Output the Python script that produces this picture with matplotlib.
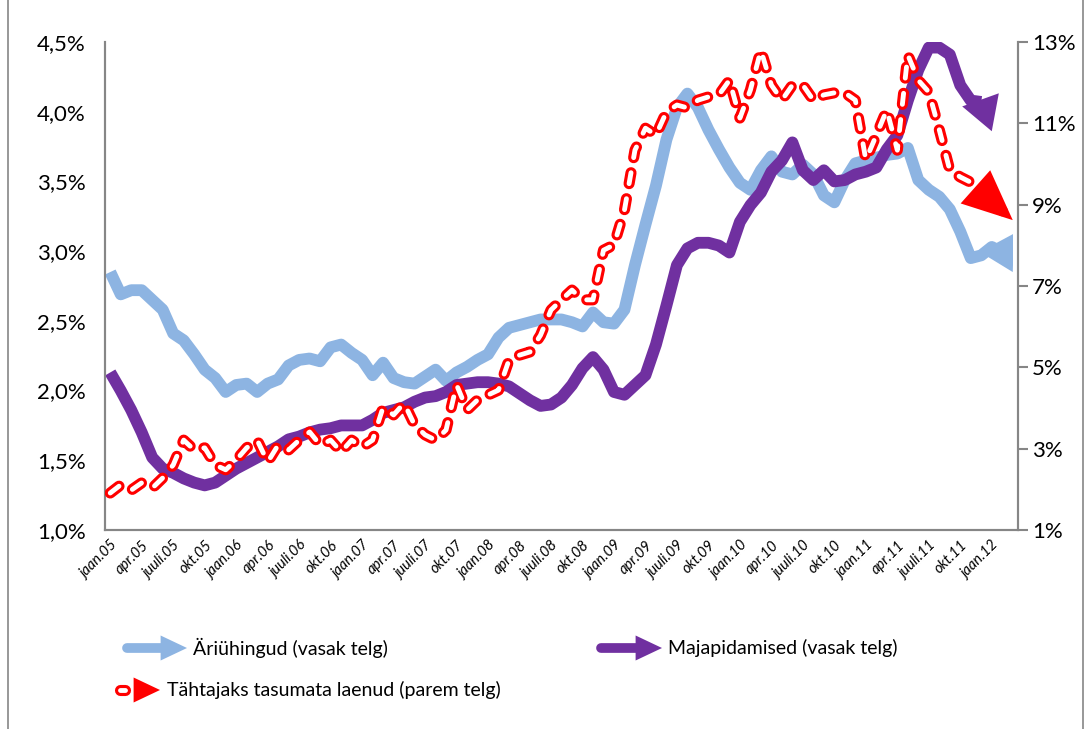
import matplotlib
matplotlib.use('Agg')
import matplotlib.pyplot as plt
import matplotlib.patheffects as pe
from matplotlib.patches import FancyArrowPatch, Rectangle
from matplotlib.lines import Line2D
from matplotlib.ticker import FixedLocator, FuncFormatter

plt.rcParams['font.family'] = ['Lato', 'DejaVu Sans']
plt.rcParams['lines.scale_dashes'] = False

# monthly data, jaan.05 ... mar.12 (category axis)
months = ['jaan', 'apr', 'juuli', 'okt']
tick_labels = ['{}.{:02d}'.format(m, y) for y in range(5, 13) for m in months][:29]

# Äriühingud (vasak telg), %
ariuhingud = [2.85, 2.69, 2.72, 2.72, 2.65, 2.58, 2.41, 2.36, 2.26, 2.15,
              2.09, 1.99, 2.04, 2.05, 1.99, 2.05, 2.08, 2.18, 2.22, 2.23,
              2.21, 2.31, 2.33, 2.27, 2.22, 2.11, 2.20, 2.09, 2.06, 2.05,
              2.10, 2.15, 2.07, 2.13, 2.17, 2.22, 2.26, 2.38, 2.45, 2.47,
              2.49, 2.51, 2.51, 2.51, 2.49, 2.46, 2.56, 2.49, 2.48, 2.58,
              2.90, 3.19, 3.47, 3.80, 4.03, 4.13, 4.03, 3.87, 3.73, 3.60,
              3.49, 3.44, 3.58, 3.68, 3.57, 3.55, 3.62, 3.55, 3.40, 3.35,
              3.51, 3.63, 3.65, 3.67, 3.69, 3.70, 3.74, 3.51, 3.44, 3.39,
              3.30, 3.14, 2.95, 2.97, 3.03, 2.99, 2.85]

# Majapidamised (vasak telg), %
majapidamised = [2.13, 2.00, 1.86, 1.70, 1.52, 1.44, 1.41, 1.37, 1.34, 1.32,
                 1.34, 1.39, 1.44, 1.48, 1.52, 1.56, 1.60, 1.65, 1.67, 1.70,
                 1.72, 1.73, 1.75, 1.75, 1.75, 1.79, 1.84, 1.86, 1.88, 1.92,
                 1.95, 1.96, 1.99, 2.04, 2.05, 2.06, 2.06, 2.05, 2.03, 1.98,
                 1.93, 1.89, 1.90, 1.95, 2.04, 2.16, 2.24, 2.15, 1.99, 1.97,
                 2.04, 2.11, 2.33, 2.61, 2.90, 3.02, 3.06, 3.06, 3.04, 2.99,
                 3.21, 3.33, 3.42, 3.57, 3.65, 3.78, 3.58, 3.51, 3.58, 3.50,
                 3.51, 3.55, 3.57, 3.60, 3.73, 3.83, 4.08, 4.30, 4.46, 4.46,
                 4.41, 4.19, 4.08, 4.07, 3.86]

# Tähtajaks tasumata laenud (parem telg), %
tahtajaks = [1.91, 2.11, 1.98, 2.16, 2.03, 2.28, 2.60, 3.21, 2.97, 3.02,
             2.60, 2.48, 2.72, 3.02, 3.21, 2.67, 3.09, 2.97, 3.21, 3.41,
             3.09, 3.21, 2.92, 3.21, 3.04, 3.21, 4.02, 3.83, 4.12, 3.58,
             3.34, 3.21, 3.46, 4.57, 3.95, 4.20, 4.32, 4.44, 5.18, 5.30,
             5.38, 5.79, 6.41, 6.66, 6.90, 6.66, 6.66, 7.88, 8.01, 8.87,
             10.34, 10.88, 10.71, 11.28, 11.45, 11.38, 11.57, 11.65, 11.70, 12.06,
             11.13, 11.82, 12.80, 11.94, 11.57, 11.94, 11.94, 11.57, 11.70, 11.75,
             11.75, 11.57, 10.10, 10.71, 11.33, 10.34, 12.68, 12.06, 11.77, 10.84,
             9.85, 9.68, 9.55, 9.35, 9.15, 8.85, 8.62]

BLUE = '#8DB4E2'
PURPLE = '#7030A0'
RED = '#FF0000'
GREY = '#868686'

n_cat = len(ariuhingud)


def dashed_outline(lw_out=8.0):
    return [pe.Stroke(linewidth=lw_out, foreground=RED), pe.Normal()]


def series_with_arrow(ax, vals, color, lw, hl, hw, clip, dashed=False):
    x = list(range(len(vals)))
    if dashed:
        ln, = ax.plot(x[:-1], vals[:-1], color='white', lw=3.5,
                      linestyle=(0, (8, 11)), dash_capstyle='round',
                      solid_joinstyle='round', zorder=3)
        ln.set_path_effects(dashed_outline())
    else:
        ln, = ax.plot(x[:-1], vals[:-1], color=color, lw=lw,
                      solid_capstyle='butt', solid_joinstyle='round', zorder=3)
    ln.set_clip_path(clip)
    arr = FancyArrowPatch((x[-2], vals[-2]), (x[-1], vals[-1]),
                          arrowstyle='-|>,head_length={},head_width={}'.format(hl, hw),
                          lw=0, color=color, shrinkA=0, shrinkB=0, zorder=3)
    ax.add_patch(arr)
    arr.set_clip_path(clip)


fig = plt.figure(figsize=(10.86, 7.29), dpi=100)
ax = fig.add_axes([105 / 1086, 1 - 530 / 729, 913 / 1086, 488 / 729])
ax2 = ax.twinx()

ax.set_xlim(-0.5, n_cat - 0.5)
ax.set_ylim(1.0, 4.5)
ax2.set_ylim(1, 13)

clip1 = Rectangle((-0.5, 1.0), n_cat - 0.5, 3.5, transform=ax.transData)
clip2 = Rectangle((-0.5, 1.0), n_cat - 0.5, 12, transform=ax2.transData)

series_with_arrow(ax, ariuhingud, BLUE, 8.5, 24, 14, clip1)
series_with_arrow(ax, majapidamised, PURPLE, 8.5, 24, 14, clip1)
series_with_arrow(ax2, tahtajaks, RED, 8, 36, 16, clip2, dashed=True)

# axes styling
for a in (ax, ax2):
    a.spines['top'].set_visible(False)
    for s in ('left', 'right', 'bottom'):
        a.spines[s].set_color(GREY)
        a.spines[s].set_linewidth(1.5)

ax.xaxis.set_major_locator(FixedLocator(range(0, n_cat, 3)))
ax.set_xticklabels(tick_labels, rotation=45, ha='right', rotation_mode='anchor',
                   fontsize=10.5, style='italic')
ax.tick_params(axis='x', length=0, pad=6)

ax.yaxis.set_major_locator(FixedLocator([1.0, 1.5, 2.0, 2.5, 3.0, 3.5, 4.0, 4.5]))
ax.yaxis.set_major_formatter(FuncFormatter(lambda v, p: '{:.1f}%'.format(v).replace('.', ',')))
ax.tick_params(axis='y', length=0, pad=14, labelsize=16)

ax2.yaxis.set_major_locator(FixedLocator([1, 3, 5, 7, 9, 11, 13]))
ax2.yaxis.set_major_formatter(FuncFormatter(lambda v, p: '{:.0f}%'.format(v)))
ax2.tick_params(axis='y', length=7, width=1.5, color=GREY, pad=3, labelsize=16)

# legend, drawn on an overlay in pixel units
lg = fig.add_axes([0, 0, 1, 1], facecolor='none')
lg.set_xlim(0, 1086)
lg.set_ylim(729, 0)
lg.axis('off')

lg.add_line(Line2D([127, 163], [648, 648], color=BLUE, lw=7, solid_capstyle='round'))
lg.add_patch(FancyArrowPatch((160, 648), (187, 648), arrowstyle='-|>,head_length=19,head_width=9',
                             lw=0, color=BLUE, shrinkA=0, shrinkB=0))
lg.text(193, 648, 'Äriühingud (vasak telg)', fontsize=14, va='center')

lg.add_line(Line2D([601, 638], [648, 648], color=PURPLE, lw=7, solid_capstyle='round'))
lg.add_patch(FancyArrowPatch((635, 648), (662, 648), arrowstyle='-|>,head_length=19,head_width=9',
                             lw=0, color=PURPLE, shrinkA=0, shrinkB=0))
lg.text(668, 648, 'Majapidamised (vasak telg)', fontsize=14, va='center')

dash = Line2D([120, 125], [690, 690], color='white', lw=3.5, solid_capstyle='round')
dash.set_path_effects(dashed_outline())
lg.add_line(dash)
lg.add_patch(FancyArrowPatch((133, 690), (160, 690), arrowstyle='-|>,head_length=19,head_width=9',
                             lw=0, color=RED, shrinkA=0, shrinkB=0))
lg.text(167, 690, 'Tähtajaks tasumata laenud (parem telg)', fontsize=14, va='center')

# chart frame
lg.add_patch(Rectangle((8, -5), 1075, 740, fill=False, edgecolor=GREY, lw=1.2))

fig.savefig('out.png', dpi=100)
